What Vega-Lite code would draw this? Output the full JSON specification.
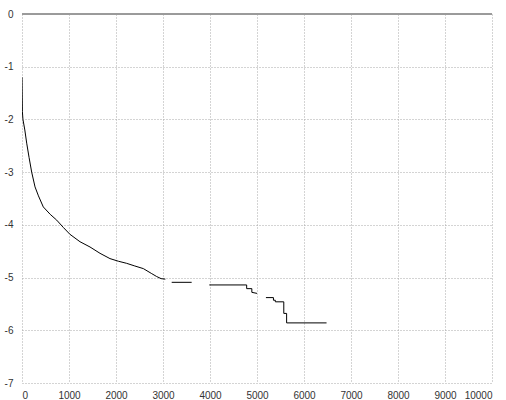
{
  "$schema": "https://vega.github.io/schema/vega-lite/v6.json",
  "width": 470,
  "height": 369,
  "autosize": "none",
  "padding": {"left": 22, "top": 14, "right": 14, "bottom": 17},
  "background": "white",
  "config": {
    "view": {"stroke": null},
    "axis": {
      "labelFont": "Liberation Sans",
      "labelFontSize": 10,
      "labelColor": "#333333",
      "grid": true,
      "gridColor": "#a8a8a8",
      "gridDash": [1, 2],
      "gridWidth": 1,
      "domain": false,
      "ticks": false,
      "title": null
    }
  },
  "data": {
    "values": [
      {"i": 0, "seg": 1, "x": 0, "y": -1.2},
      {"i": 1, "seg": 1, "x": 8, "y": -1.85},
      {"i": 2, "seg": 1, "x": 20, "y": -2.0},
      {"i": 3, "seg": 1, "x": 60, "y": -2.2},
      {"i": 4, "seg": 1, "x": 100, "y": -2.45},
      {"i": 5, "seg": 1, "x": 150, "y": -2.72},
      {"i": 6, "seg": 1, "x": 206, "y": -3.0},
      {"i": 7, "seg": 1, "x": 277, "y": -3.28},
      {"i": 8, "seg": 1, "x": 350, "y": -3.45},
      {"i": 9, "seg": 1, "x": 453, "y": -3.66},
      {"i": 10, "seg": 1, "x": 600, "y": -3.8},
      {"i": 11, "seg": 1, "x": 738, "y": -3.91},
      {"i": 12, "seg": 1, "x": 880, "y": -4.05},
      {"i": 13, "seg": 1, "x": 1021, "y": -4.18},
      {"i": 14, "seg": 1, "x": 1234, "y": -4.32},
      {"i": 15, "seg": 1, "x": 1447, "y": -4.42},
      {"i": 16, "seg": 1, "x": 1660, "y": -4.54},
      {"i": 17, "seg": 1, "x": 1872, "y": -4.64},
      {"i": 18, "seg": 1, "x": 2050, "y": -4.69},
      {"i": 19, "seg": 1, "x": 2227, "y": -4.73},
      {"i": 20, "seg": 1, "x": 2400, "y": -4.78},
      {"i": 21, "seg": 1, "x": 2582, "y": -4.83},
      {"i": 22, "seg": 1, "x": 2750, "y": -4.92},
      {"i": 23, "seg": 1, "x": 2865, "y": -4.98},
      {"i": 24, "seg": 1, "x": 2960, "y": -5.02},
      {"i": 25, "seg": 1, "x": 3050, "y": -5.03},
      {"i": 26, "seg": 2, "x": 3185, "y": -5.09},
      {"i": 27, "seg": 2, "x": 3610, "y": -5.09},
      {"i": 28, "seg": 3, "x": 3985, "y": -5.14},
      {"i": 29, "seg": 3, "x": 4780, "y": -5.14},
      {"i": 30, "seg": 3, "x": 4780, "y": -5.21},
      {"i": 31, "seg": 3, "x": 4890, "y": -5.21},
      {"i": 32, "seg": 3, "x": 4890, "y": -5.28},
      {"i": 33, "seg": 3, "x": 5000, "y": -5.3},
      {"i": 34, "seg": 4, "x": 5190, "y": -5.38},
      {"i": 35, "seg": 4, "x": 5350, "y": -5.38},
      {"i": 36, "seg": 4, "x": 5350, "y": -5.43},
      {"i": 37, "seg": 4, "x": 5390, "y": -5.43},
      {"i": 38, "seg": 4, "x": 5390, "y": -5.46},
      {"i": 39, "seg": 4, "x": 5570, "y": -5.46},
      {"i": 40, "seg": 4, "x": 5570, "y": -5.68},
      {"i": 41, "seg": 4, "x": 5630, "y": -5.68},
      {"i": 42, "seg": 4, "x": 5630, "y": -5.86},
      {"i": 43, "seg": 4, "x": 6480, "y": -5.86}
    ]
  },
  "layer": [
    {
      "mark": {"type": "line", "color": "black", "strokeWidth": 1, "clip": true},
      "encoding": {
        "x": {
          "field": "x", "type": "quantitative",
          "scale": {"domain": [0, 10000], "nice": false, "zero": false},
          "axis": {"values": [0,1000,2000,3000,4000,5000,6000,7000,8000,9000,10000], "labelPadding": 7, "labelExpr": "'' + datum.value"}
        },
        "y": {
          "field": "y", "type": "quantitative",
          "scale": {"domain": [-7, 0], "nice": false, "zero": false},
          "axis": {"values": [-7,-6,-5,-4,-3,-2,-1,0], "labelPadding": 9, "labelExpr": "'' + datum.value"}
        },
        "detail": {"field": "seg"},
        "order": {"field": "i", "type": "quantitative"}
      }
    },
    {
      "mark": {"type": "rule", "color": "#9a9a9a", "strokeWidth": 1},
      "encoding": {"y": {"datum": 0}}
    }
  ]
}
